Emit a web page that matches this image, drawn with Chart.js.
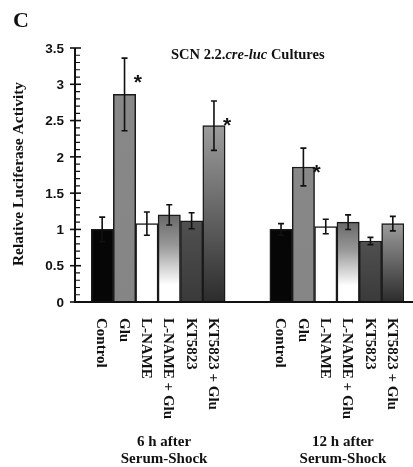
<!DOCTYPE html>
<html>
<head>
<meta charset="utf-8">
<script src="https://cdn.jsdelivr.net/npm/chart.js@4"></script>
<style>
  html, body { margin: 0; padding: 0; background: #fff; }
  #wrap { position: relative; width: 413px; height: 467px; }
</style>
</head>
<body>
<div id="wrap"><canvas id="lucChart" width="413" height="467"></canvas></div>
<script>
// ── DATA ──
const treatments = ['Control', 'Glu', 'L-NAME', 'L-NAME + Glu', 'KT5823', 'KT5823 + Glu'];
const groupNames = [['6 h after', 'Serum-Shock'], ['12 h after', 'Serum-Shock']];

const mean6h  = [1.00, 2.86, 1.08, 1.20, 1.12, 2.43];
const sem6h   = [0.17, 0.50, 0.16, 0.14, 0.11, 0.34];
const star6h  = [false, true, false, false, false, true];

const mean12h = [1.00, 1.86, 1.04, 1.10, 0.84, 1.08];
const sem12h  = [0.08, 0.26, 0.10, 0.10, 0.05, 0.10];
const star12h = [false, true, false, false, false, false];

const yTicks = [0, 0.5, 1, 1.5, 2, 2.5, 3, 3.5];

// two empty slots separate the groups
const gap = ['', ''];
const labels = [...treatments, ...gap, ...treatments];
const means  = [...mean6h, null, null, ...mean12h];
const sems   = [...sem6h, null, null, ...sem12h];
const stars  = [...star6h, false, false, ...star12h];

// ── BAR FILLS (per treatment) ──
const fills = [
  [[0, '#060606'], [1, '#060606']],
  [[0, '#888888'], [1, '#858585']],
  [[0, '#ffffff'], [1, '#ffffff']],
  [[0, '#686868'], [0.35, '#989898'], [0.8, '#ffffff'], [1, '#ffffff']],
  [[0, '#505050'], [1, '#3a3a3a']],
  [[0, '#9c9c9c'], [1, '#2c2c2c']]
];

function barFill(c) {
  const chart = c.chart;
  const v = c.raw;
  const y = chart.scales && chart.scales.y;
  if (v == null || !y) return '#888';
  const stops = fills[c.dataIndex % 8];
  const top = y.getPixelForValue(v);
  const bot = y.getPixelForValue(0);
  if (!isFinite(top) || !isFinite(bot) || !stops) return stops ? stops[0][1] : '#888';
  const g = chart.ctx.createLinearGradient(0, top, 0, bot);
  stops.forEach(s => g.addColorStop(s[0], s[1]));
  return g;
}

const SERIF = '"Liberation Serif", "Times New Roman", serif';
const SANS  = '"Liberation Sans", Arial, sans-serif';

// ── AXES, LABELS, ERROR BARS ──
const decorations = {
  id: 'decorations',
  afterDatasetsDraw(chart) {
    const { ctx, chartArea: a, scales: { x, y } } = chart;
    const bars = chart.getDatasetMeta(0).data;
    const axisX = a.left - 16;

    ctx.save();
    ctx.strokeStyle = '#111';
    ctx.fillStyle = '#111';

    // error bars + asterisks
    ctx.lineWidth = 1.6;
    bars.forEach((el, i) => {
      if (means[i] == null) return;
      const yt = y.getPixelForValue(means[i] + sems[i]);
      const yb = y.getPixelForValue(means[i] - sems[i]);
      ctx.beginPath();
      ctx.moveTo(el.x, yt); ctx.lineTo(el.x, yb);
      ctx.moveTo(el.x - 3, yt); ctx.lineTo(el.x + 3, yt);
      ctx.moveTo(el.x - 3, yb); ctx.lineTo(el.x + 3, yb);
      ctx.stroke();
      if (stars[i]) {
        ctx.font = 'bold 21px ' + SANS;
        ctx.textAlign = 'center';
        ctx.textBaseline = 'alphabetic';
        ctx.fillText('*', el.x + el.width / 2 + 2, yt + 31);
      }
    });

    // axis lines
    ctx.lineWidth = 2;
    ctx.beginPath();
    ctx.moveTo(axisX, y.getPixelForValue(3.5));
    ctx.lineTo(axisX, a.bottom);
    ctx.moveTo(axisX - 1, a.bottom);
    ctx.lineTo(chart.width, a.bottom);
    ctx.stroke();

    // minor ticks every 0.1
    ctx.lineWidth = 1.2;
    ctx.beginPath();
    for (let k = 1; k < 35; k++) {
      if (k % 5 === 0) continue;
      const py = y.getPixelForValue(k / 10);
      ctx.moveTo(axisX, py); ctx.lineTo(axisX + 5, py);
    }
    ctx.stroke();

    // major ticks + labels
    ctx.lineWidth = 1.6;
    ctx.font = 'bold 13.5px ' + SANS;
    ctx.textAlign = 'right';
    ctx.textBaseline = 'middle';
    yTicks.forEach(t => {
      const py = y.getPixelForValue(t);
      ctx.beginPath();
      ctx.moveTo(axisX - 5, py); ctx.lineTo(axisX + 6, py);
      ctx.stroke();
      ctx.fillText(String(t), axisX - 11, py + 1);
    });

    // rotated category labels (read top to bottom)
    ctx.font = 'bold 15px ' + SERIF;
    ctx.textAlign = 'left';
    ctx.textBaseline = 'middle';
    labels.forEach((lab, i) => {
      if (!lab) return;
      ctx.save();
      ctx.translate(x.getPixelForValue(i), a.bottom + 16);
      ctx.rotate(Math.PI / 2);
      ctx.fillText(lab, 0, 1);
      ctx.restore();
    });

    // group labels
    ctx.textAlign = 'center';
    ctx.textBaseline = 'middle';
    groupNames.forEach((lines, g) => {
      const first = g * 8, last = first + treatments.length - 1;
      const cx = (x.getPixelForValue(first) + x.getPixelForValue(last)) / 2 + 6;
      lines.forEach((ln, j) => ctx.fillText(ln, cx, a.bottom + 140 + j * 17));
    });

    // y axis title
    ctx.save();
    ctx.font = 'bold 15.5px ' + SERIF;
    ctx.translate(19, 174);
    ctx.rotate(-Math.PI / 2);
    ctx.fillText('Relative Luciferase Activity', 0, 0);
    ctx.restore();

    // panel letter
    ctx.font = 'bold 22px ' + SERIF;
    ctx.textAlign = 'left';
    ctx.textBaseline = 'alphabetic';
    ctx.fillText('C', 13, 27);

    // title with italic construct name
    const parts = [['SCN 2.2.', 'bold'], ['cre-luc', 'italic bold'], [' Cultures', 'bold']];
    let tx = 171;
    ctx.textBaseline = 'middle';
    parts.forEach(([txt, style]) => {
      ctx.font = style + ' 14.5px ' + SERIF;
      ctx.fillText(txt, tx, 55);
      tx += ctx.measureText(txt).width;
    });

    ctx.restore();
  }
};

new Chart(document.getElementById('lucChart'), {
  type: 'bar',
  data: {
    labels: labels,
    datasets: [{
      data: means,
      backgroundColor: barFill,
      borderColor: '#1a1a1a',
      borderWidth: 1.5,
      borderSkipped: 'bottom',
      barPercentage: 1,
      categoryPercentage: 1
    }]
  },
  options: {
    responsive: false,
    animation: false,
    layout: { padding: { left: 91, right: 9, top: 48, bottom: 165 } },
    plugins: { legend: { display: false }, tooltip: { enabled: false } },
    scales: {
      x: { display: false },
      y: { display: false, min: 0, max: 3.5 }
    }
  },
  plugins: [decorations]
});
</script>
</body>
</html>
